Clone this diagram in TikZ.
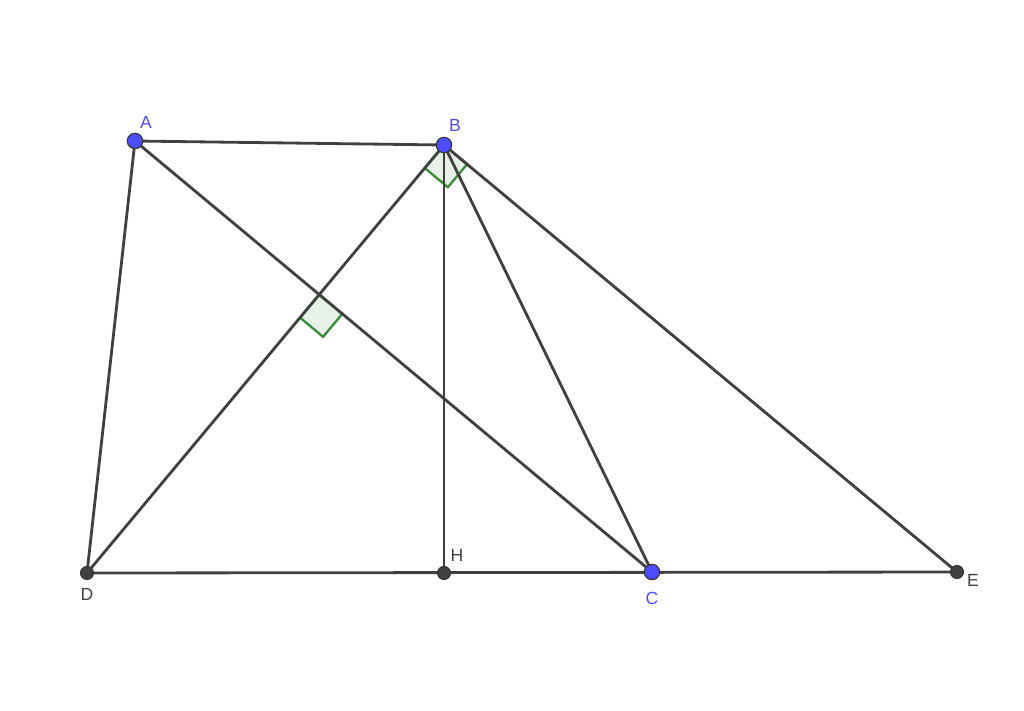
\documentclass[tikz,border=0pt]{standalone}
\usepackage{fontspec}
\setmainfont{Liberation Sans}
\usetikzlibrary{calc,positioning}
\definecolor{ptblue}{RGB}{77,77,255}
\definecolor{segdark}{RGB}{64,64,64}
\definecolor{markgreen}{RGB}{56,140,56}
\tikzstyle{seg} = [segdark, line width=1.6pt]
\tikzset{
    bluept/.style = {circle, draw=black!80, fill=ptblue, line width=0.6pt, minimum size=0.31cm, inner sep=0pt},
    darkpt/.style = {circle, draw=black!80, fill=black!75, line width=0.6pt, minimum size=0.26cm, inner sep=0pt},
    bluelab/.style = {text=ptblue, font=\fontsize{10}{12}\selectfont, inner sep=1pt},
    darklab/.style = {text=black!75, font=\fontsize{10}{12}\selectfont, inner sep=1pt},
    rightmark/.style = {draw=markgreen, fill=markgreen!12, line width=1.3pt, line join=miter},
}

\begin{document}
\begin{tikzpicture}[x=0.02cm, y=-0.02cm]
    \useasboundingbox (0,0) rectangle (1024,710);

    \coordinate (A) at (135,141);
    \coordinate (B) at (444,145);
    \coordinate (D) at (87,573);
    \coordinate (H) at (444,573);
    \coordinate (C) at (652,572);
    \coordinate (E) at (957,572);
    \coordinate (O) at (intersection of A--C and B--D);

    % right angle marks
    \coordinate (O1) at ($(O)!0.6cm!(D)$);
    \coordinate (O2) at ($(O)!0.6cm!(C)$);
    \draw [rightmark] (O) -- (O1) -- ($(O1)+(O2)-(O)$) -- (O2) -- cycle;
    \coordinate (B1) at ($(B)!0.6cm!(D)$);
    \coordinate (B2) at ($(B)!0.6cm!(E)$);
    \draw [rightmark] (B) -- (B1) -- ($(B1)+(B2)-(B)$) -- (B2) -- cycle;

    \draw [seg] (A) -- (B);
    \draw [seg] (A) -- (D);
    \draw [seg] (A) -- (C);
    \draw [seg] (B) -- (D);
    \draw [seg] (B) -- (H);
    \draw [seg] (B) -- (C);
    \draw [seg] (B) -- (E);
    \draw [seg] (D) -- (E);

    \node [bluept] (pA) at (A) {};
    \node [bluept] (pB) at (B) {};
    \node [bluept] (pC) at (C) {};
    \node [darkpt] (pD) at (D) {};
    \node [darkpt] (pH) at (H) {};
    \node [darkpt] (pE) at (E) {};

    \node [bluelab] (lA) at (146,122) {A};
    \node [bluelab] (lB) at (455,125) {B};
    \node [bluelab] (lC) at (652,598) {C};
    \node [darklab] (lD) at (87,594) {D};
    \node [darklab] (lH) at (457,555) {H};
    \node [darklab] (lE) at (973,580) {E};
\end{tikzpicture}
\end{document}
